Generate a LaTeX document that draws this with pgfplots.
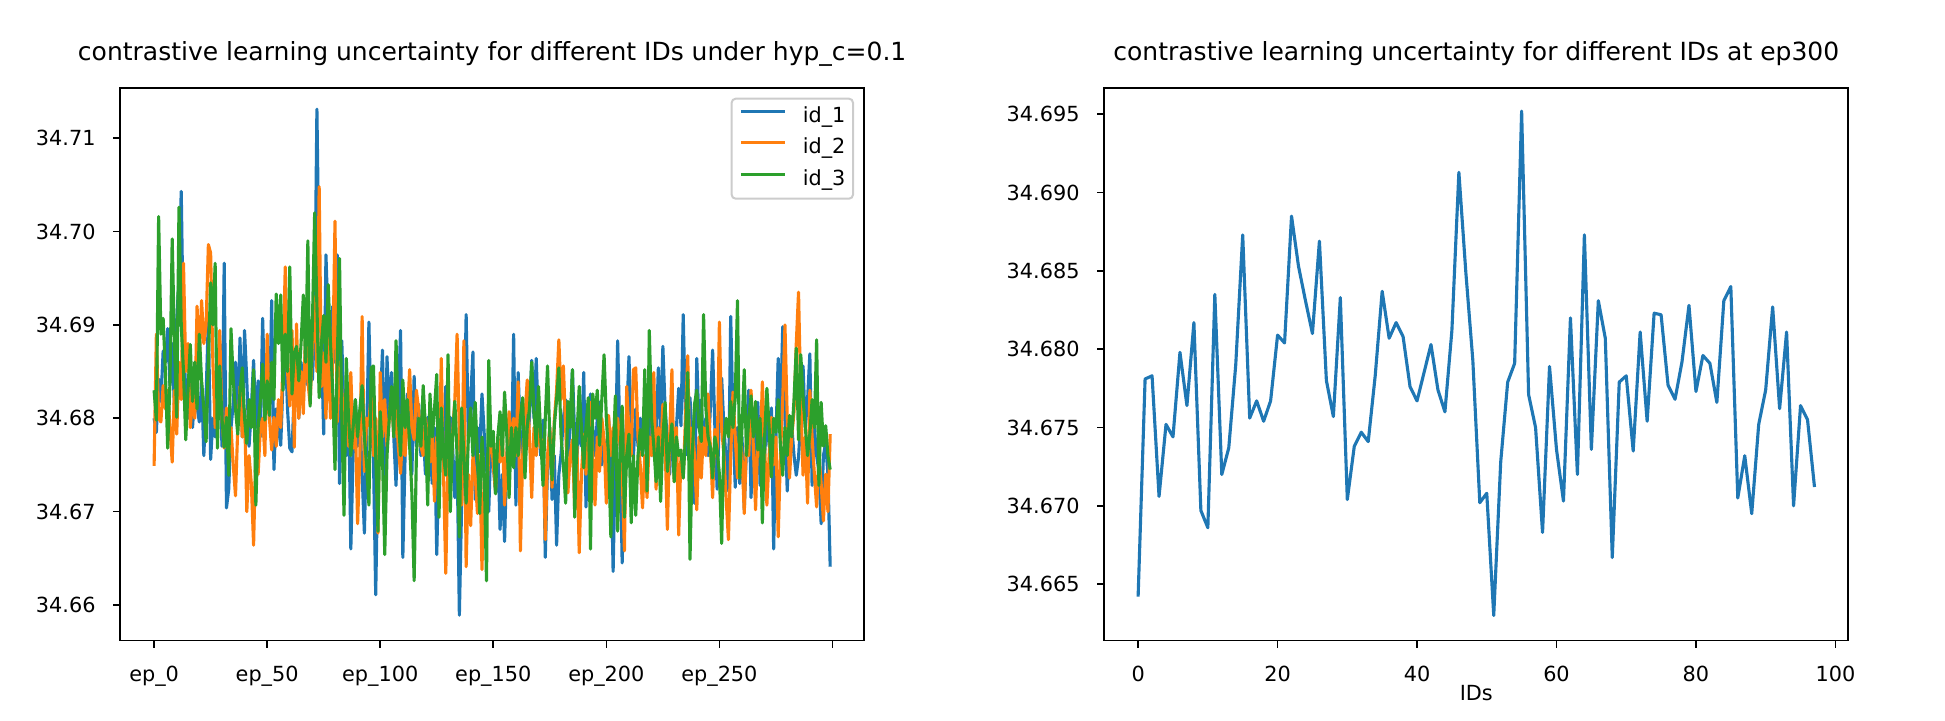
\documentclass[border=0pt]{standalone}
\usepackage{fontspec}
\setmainfont{DejaVu Sans}
\usepackage{pgfplots}
\usepackage{pgfplotstable}
\pgfplotsset{compat=1.18}
\definecolor{c1}{HTML}{1F77B4}
\definecolor{c2}{HTML}{FF7F0E}
\definecolor{c3}{HTML}{2CA02C}
\definecolor{lgray}{HTML}{CCCCCC}

\pgfplotstableread{
i b o g
0 34.6800 34.6749 34.6830
1 34.6785 34.6890 34.6798
2 34.6842 34.6800 34.7016
3 34.6818 34.6796 34.6890
4 34.6872 34.6835 34.6907
5 34.6860 34.6810 34.6850
6 34.6896 34.6830 34.6768
7 34.6835 34.6790 34.6837
8 34.6880 34.6753 34.6992
9 34.6810 34.6830 34.6880
10 34.6905 34.6783 34.6801
11 34.6950 34.6860 34.7026
12 34.7043 34.6820 34.6900
13 34.6880 34.6966 34.6850
14 34.6830 34.6850 34.6777
15 34.6800 34.6880 34.6830
16 34.6845 34.6790 34.6879
17 34.6790 34.6820 34.6818
18 34.6830 34.6800 34.6860
19 34.6812 34.6920 34.6810
20 34.6796 34.6860 34.6890
21 34.6838 34.6926 34.6840
22 34.6760 34.6880 34.6810
23 34.6825 34.6900 34.6775
24 34.6907 34.6986 34.6860
25 34.6756 34.6977 34.6945
26 34.6800 34.6860 34.6900
27 34.6780 34.6790 34.6966
28 34.6850 34.6840 34.6768
29 34.6880 34.6894 34.6856
30 34.6770 34.6800 34.6800
31 34.6966 34.6768 34.6769
32 34.6704 34.6811 34.6801
33 34.6724 34.6760 34.6739
34 34.6790 34.6790 34.6896
35 34.6815 34.6750 34.6840
36 34.6860 34.6717 34.6810
37 34.6800 34.6790 34.6783
38 34.6886 34.6834 34.6830
39 34.6780 34.6780 34.6854
40 34.6894 34.6810 34.6800
41 34.6840 34.6700 34.6773
42 34.6770 34.6760 34.6820
43 34.6810 34.6730 34.6790
44 34.6862 34.6664 34.6852
45 34.6790 34.6770 34.6707
46 34.6840 34.6740 34.6790
47 34.6780 34.6790 34.6820
48 34.6907 34.6800 34.6858
49 34.6820 34.6760 34.6798
50 34.6860 34.6890 34.6840
51 34.6800 34.6800 34.6803
52 34.6926 34.6766 34.6860
53 34.6745 34.6801 34.6820
54 34.6810 34.6770 34.6933
55 34.6790 34.6820 34.6880
56 34.6771 34.6790 34.6932
57 34.6840 34.6860 34.6830
58 34.6880 34.6962 34.6890
59 34.6810 34.6850 34.6850
60 34.6768 34.6813 34.6962
61 34.6764 34.6894 34.6826
62 34.6830 34.6769 34.6870
63 34.6870 34.6901 34.6877
64 34.6800 34.6800 34.6840
65 34.6860 34.6850 34.6880
66 34.6820 34.6805 34.6932
67 34.6880 34.6894 34.6860
68 34.6835 34.6840 34.6990
69 34.6870 34.6815 34.6813
70 34.6841 34.6880 34.6900
71 34.6900 34.6930 34.7020
72 34.7131 34.6850 34.6920
73 34.6950 34.7048 34.6822
74 34.6880 34.6834 34.6880
75 34.6783 34.6870 34.6910
76 34.6975 34.6800 34.6860
77 34.6900 34.6886 34.6943
78 34.6850 34.6800 34.6880
79 34.6920 34.6860 34.6830
80 34.6860 34.7011 34.6745
81 34.6975 34.6796 34.6860
82 34.6730 34.6860 34.6971
83 34.6883 34.6830 34.6800
84 34.6800 34.6790 34.6696
85 34.6760 34.6820 34.6864
86 34.6820 34.6770 34.6800
87 34.6660 34.6849 34.6760
88 34.6760 34.6768 34.6790
89 34.6820 34.6800 34.6820
90 34.6770 34.6687 34.6780
91 34.6800 34.6760 34.6810
92 34.6740 34.6909 34.6835
93 34.6677 34.6743 34.6780
94 34.6780 34.6800 34.6750
95 34.6903 34.6792 34.6707
96 34.6790 34.6830 34.6854
97 34.6760 34.6760 34.6856
98 34.6611 34.6800 34.6760
99 34.6750 34.6677 34.6679
100 34.6810 34.6849 34.6807
101 34.6873 34.6780 34.6760
102 34.6728 34.6820 34.6654
103 34.6866 34.6770 34.6760
104 34.6800 34.6800 34.6800
105 34.6849 34.6830 34.6834
106 34.6780 34.6780 34.6780
107 34.6728 34.6810 34.6883
108 34.6820 34.6770 34.6800
109 34.6894 34.6741 34.6760
110 34.6651 34.6790 34.6841
111 34.6760 34.6760 34.6790
112 34.6826 34.6800 34.6820
113 34.6780 34.6852 34.6771
114 34.6740 34.6790 34.6720
115 34.6845 34.6777 34.6626
116 34.6770 34.6830 34.6760
117 34.6815 34.6809 34.6800
118 34.6760 34.6770 34.6770
119 34.6790 34.6760 34.6835
120 34.6740 34.6800 34.6790
121 34.6801 34.6780 34.6707
122 34.6770 34.6753 34.6826
123 34.6730 34.6790 34.6780
124 34.6790 34.6711 34.6810
125 34.6654 34.6780 34.6847
126 34.6760 34.6740 34.6694
127 34.6800 34.6864 34.6811
128 34.6750 34.6740 34.6760
129 34.6834 34.6634 34.6739
130 34.6760 34.6760 34.6868
131 34.6801 34.6720 34.6700
132 34.6770 34.6783 34.6780
133 34.6715 34.6820 34.6818
134 34.6760 34.6890 34.6760
135 34.6589 34.6780 34.6673
136 34.6707 34.6707 34.6811
137 34.6780 34.6883 34.6760
138 34.6911 34.6641 34.6709
139 34.6775 34.6740 34.6780
140 34.6820 34.6685 34.6811
141 34.6871 34.6760 34.6760
142 34.6713 34.6739 34.6817
143 34.6790 34.6698 34.6760
144 34.6764 34.6760 34.6698
145 34.6826 34.6638 34.6780
146 34.6783 34.6740 34.6740
147 34.6750 34.6715 34.6626
148 34.6700 34.6760 34.6862
149 34.6780 34.6785 34.6770
150 34.6750 34.6750 34.6786
151 34.6720 34.6722 34.6719
152 34.6770 34.6780 34.6780
153 34.6681 34.6753 34.6807
154 34.6740 34.6790 34.6760
155 34.6668 34.6707 34.6828
156 34.6760 34.6760 34.6780
157 34.6800 34.6807 34.6715
158 34.6750 34.6769 34.6790
159 34.6890 34.6800 34.6747
160 34.6707 34.6760 34.6790
161 34.6849 34.6839 34.6760
162 34.6780 34.6658 34.6801
163 34.6760 34.6760 34.6822
164 34.6810 34.6800 34.6736
165 34.6770 34.6841 34.6790
166 34.6800 34.6780 34.6810
167 34.6862 34.6715 34.6860
168 34.6800 34.6790 34.6807
169 34.6864 34.6760 34.6770
170 34.6790 34.6800 34.6834
171 34.6760 34.6768 34.6780
172 34.6798 34.6777 34.6728
173 34.6651 34.6670 34.6800
174 34.6750 34.6760 34.6856
175 34.6790 34.6790 34.6780
176 34.6713 34.6726 34.6734
177 34.6760 34.6798 34.6792
178 34.6664 34.6830 34.6820
179 34.6740 34.6884 34.6854
180 34.6762 34.6820 34.6780
181 34.6800 34.6856 34.6750
182 34.6820 34.6790 34.6709
183 34.6760 34.6720 34.6818
184 34.6790 34.6760 34.6790
185 34.6852 34.6777 34.6852
186 34.6780 34.6702 34.6694
187 34.6758 34.6770 34.6780
188 34.6800 34.6656 34.6834
189 34.6770 34.6740 34.6790
190 34.6849 34.6783 34.6747
191 34.6705 34.6740 34.6790
192 34.6780 34.6790 34.6822
193 34.6826 34.6817 34.6660
194 34.6790 34.6760 34.6826
195 34.6760 34.6707 34.6800
196 34.6800 34.6780 34.6830
197 34.6817 34.6743 34.6771
198 34.6750 34.6800 34.6820
199 34.6777 34.6777 34.6868
200 34.6740 34.6709 34.6800
201 34.6800 34.6803 34.6760
202 34.6760 34.6760 34.6673
203 34.6636 34.6790 34.6760
204 34.6760 34.6762 34.6824
205 34.6883 34.6800 34.6679
206 34.6780 34.6773 34.6760
207 34.6645 34.6740 34.6813
208 34.6760 34.6658 34.6694
209 34.6800 34.6834 34.6760
210 34.6866 34.6785 34.6783
211 34.6790 34.6760 34.6688
212 34.6760 34.6852 34.6760
213 34.6810 34.6854 34.6696
214 34.6770 34.6780 34.6760
215 34.6800 34.6750 34.6788
216 34.6760 34.6704 34.6760
217 34.6790 34.6760 34.6852
218 34.6773 34.6715 34.6722
219 34.6810 34.6780 34.6894
220 34.6760 34.6760 34.6800
221 34.6800 34.6849 34.6770
222 34.6780 34.6724 34.6732
223 34.6854 34.6790 34.6780
224 34.6790 34.6760 34.6711
225 34.6877 34.6815 34.6780
226 34.6810 34.6770 34.6817
227 34.6777 34.6681 34.6743
228 34.6740 34.6780 34.6770
229 34.6800 34.6852 34.6794
230 34.6760 34.6732 34.6732
231 34.6790 34.6790 34.6780
232 34.6832 34.6675 34.6760
233 34.6792 34.6760 34.6766
234 34.6911 34.6736 34.6736
235 34.6800 34.6800 34.6780
236 34.6760 34.6867 34.6849
237 34.6822 34.6739 34.6649
238 34.6770 34.6790 34.6760
239 34.6709 34.6760 34.6815
240 34.6864 34.6702 34.6830
241 34.6790 34.6780 34.6790
242 34.6820 34.6736 34.6775
243 34.6762 34.6790 34.6911
244 34.6800 34.6760 34.6811
245 34.6760 34.6826 34.6780
246 34.6810 34.6770 34.6769
247 34.6873 34.6715 34.6736
248 34.6790 34.6788 34.6780
249 34.6724 34.6760 34.6766
250 34.6800 34.6903 34.6740
251 34.6843 34.6790 34.6666
252 34.6790 34.6760 34.6777
253 34.6754 34.6713 34.6800
254 34.6722 34.6670 34.6780
255 34.6909 34.6760 34.6818
256 34.6800 34.6828 34.6790
257 34.6726 34.6780 34.6822
258 34.6790 34.6736 34.6926
259 34.6730 34.6790 34.6736
260 34.6780 34.6760 34.6790
261 34.6702 34.6698 34.6852
262 34.6770 34.6780 34.6760
263 34.6830 34.6760 34.6800
264 34.6715 34.6830 34.6824
265 34.6790 34.6770 34.6780
266 34.6760 34.6702 34.6818
267 34.6817 34.6780 34.6766
268 34.6728 34.6760 34.6800
269 34.6790 34.6839 34.6688
270 34.6760 34.6770 34.6780
271 34.6800 34.6707 34.6832
272 34.6770 34.6760 34.6790
273 34.6811 34.6801 34.6737
274 34.6660 34.6750 34.6800
275 34.6780 34.6780 34.6785
276 34.6864 34.6673 34.6820
277 34.6800 34.6760 34.6770
278 34.6898 34.6820 34.6739
279 34.6800 34.6900 34.6790
280 34.6722 34.6800 34.6760
281 34.6780 34.6736 34.6803
282 34.6792 34.6780 34.6780
283 34.6760 34.6807 34.6820
284 34.6739 34.6880 34.6875
285 34.6758 34.6935 34.6777
286 34.6800 34.6820 34.6868
287 34.6856 34.6739 34.6822
288 34.6790 34.6780 34.6790
289 34.6820 34.6709 34.6760
290 34.6869 34.6830 34.6783
291 34.6728 34.6780 34.6820
292 34.6790 34.6740 34.6790
293 34.6760 34.6705 34.6884
294 34.6743 34.6760 34.6728
295 34.6687 34.6730 34.6817
296 34.6760 34.6690 34.6770
297 34.6773 34.6740 34.6792
298 34.6740 34.6700 34.6760
299 34.6641 34.6783 34.6745
}\leftdata

\pgfplotstableread{
i v
0 34.6642
1 34.6781
2 34.6783
3 34.6706
4 34.6752
5 34.6744
6 34.6798
7 34.6764
8 34.6817
9 34.6697
10 34.6686
11 34.6835
12 34.6720
13 34.6737
14 34.6790
15 34.6873
16 34.6756
17 34.6767
18 34.6754
19 34.6767
20 34.6809
21 34.6804
22 34.6885
23 34.6853
24 34.6831
25 34.6810
26 34.6869
27 34.6780
28 34.6757
29 34.6833
30 34.6704
31 34.6738
32 34.6747
33 34.6741
34 34.6783
35 34.6837
36 34.6807
37 34.6817
38 34.6808
39 34.6776
40 34.6767
41 34.6785
42 34.6803
43 34.6774
44 34.6760
45 34.6812
46 34.6913
47 34.6849
48 34.6793
49 34.6702
50 34.6708
51 34.6630
52 34.6728
53 34.6779
54 34.6791
55 34.6952
56 34.6771
57 34.6750
58 34.6683
59 34.6789
60 34.6736
61 34.6703
62 34.6820
63 34.6720
64 34.6873
65 34.6736
66 34.6831
67 34.6807
68 34.6667
69 34.6779
70 34.6783
71 34.6735
72 34.6811
73 34.6754
74 34.6823
75 34.6822
76 34.6777
77 34.6768
78 34.6792
79 34.6828
80 34.6773
81 34.6796
82 34.6791
83 34.6766
84 34.6831
85 34.6840
86 34.6705
87 34.6732
88 34.6695
89 34.6752
90 34.6774
91 34.6827
92 34.6762
93 34.6811
94 34.6700
95 34.6764
96 34.6755
97 34.6712
}\rightdata

\pgfplotsset{
  mpl/.style={
    scale only axis,
    anchor=south west,
    axis line style={black, line width=0.83pt},
    tick align=outside,
    tick pos=left,
    major tick length=3.6pt,
    every tick/.style={black, line width=0.83pt},
    /pgf/number format/assume math mode=true,
    ticklabel style={font=\fontsize{10.4}{12.5}\selectfont},
    yticklabel style={anchor=east, inner sep=0pt, xshift=-8.6pt},
    xticklabel style={anchor=north, inner sep=0pt, yshift=-8.8pt},
    title style={font=\fontsize{12.5}{15}\selectfont, at={(0.5,1)}, anchor=south, inner sep=0pt, text depth=0pt, yshift=7.2pt},
    every axis plot/.append style={line width=1.56pt, line join=round, mark=none},
  }
}

\begin{document}
\begin{tikzpicture}[x=1pt,y=1pt]
\path[use as bounding box] (0,0) rectangle (972.5,360.5);
\begin{axis}[
  mpl,
  at={(60.15pt,40.25pt)},
  width=371.85pt, height=276.4pt,
  xmin=-14.95, xmax=313.95,
  ymin=34.6562, ymax=34.7154,
  xtick={0,50,100,150,200,250,300},
  xticklabels={ep\_0,ep\_50,ep\_100,ep\_150,ep\_200,ep\_250,{}},
  ytick={34.66,34.67,34.68,34.69,34.70,34.71},
  yticklabels={34.66,34.67,34.68,34.69,34.70,34.71},
  title={contrastive learning uncertainty for different IDs under hyp\_c=0.1},
  legend style={at={(1,1)}, anchor=north east, xshift=-5pt, yshift=-5pt,
    draw=lgray, line width=1pt, rounded corners=2pt, fill=white,
    font=\fontsize{10.4}{12.5}\selectfont,
    inner xsep=3.8pt, inner ysep=4pt, row sep=5.4pt, column sep=8pt,
    nodes={inner sep=0pt, text height=7.8pt, text depth=2.6pt}},
  legend cell align=left,
  legend image code/.code={\draw[#1, line width=1.56pt] (0pt,2.9pt) -- (22.2pt,2.9pt);},
]
\addplot[c1] table[x=i, y=b] {\leftdata};
\addlegendentry{id\_1}
\addplot[c2] table[x=i, y=o] {\leftdata};
\addlegendentry{id\_2}
\addplot[c3] table[x=i, y=g] {\leftdata};
\addlegendentry{id\_3}
\end{axis}
\begin{axis}[
  mpl,
  at={(552.15pt,40.25pt)},
  width=372pt, height=276.4pt,
  xmin=-4.85, xmax=101.85,
  ymin=34.6614, ymax=34.6967,
  xtick={0,20,40,60,80,100},
  xticklabels={0,20,40,60,80,100},
  ytick={34.665,34.670,34.675,34.680,34.685,34.690,34.695},
  yticklabels={34.665,34.670,34.675,34.680,34.685,34.690,34.695},
  title={contrastive learning uncertainty for different IDs at ep300},
  xlabel={IDs},
  xlabel style={font=\fontsize{10.4}{12.5}\selectfont, at={(0.5,0)}, anchor=north, inner sep=0pt, yshift=-22.15pt},
]
\addplot[c1] table[x=i, y=v] {\rightdata};
\end{axis}
\end{tikzpicture}
\end{document}
